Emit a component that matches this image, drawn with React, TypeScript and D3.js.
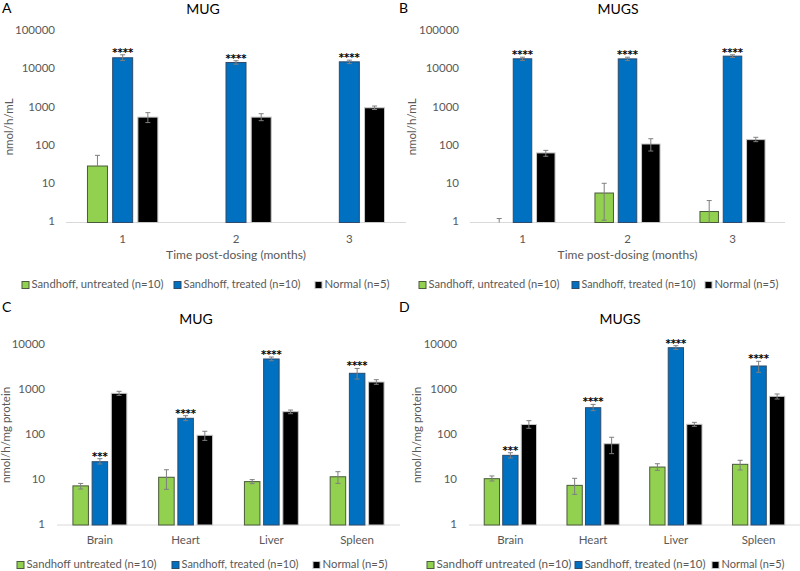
import React from "react";
import * as d3 from "d3";

// ---------- data ----------
const legendAB = ["Sandhoff, untreated (n=10)", "Sandhoff, treated (n=10)", "Normal (n=5)"];
const legendCD = ["Sandhoff untreated (n=10)", "Sandhoff, treated (n=10)", "Normal (n=5)"];
const months = ["1", "2", "3"];
const tissues = ["Brain", "Heart", "Liver", "Spleen"];
const ticksAB = [1, 10, 100, 1000, 10000, 100000];
const ticksCD = [1, 10, 100, 1000, 10000];

// Panel A (MUG, plasma)
const aUntreated = [30, null, null];
const aUntreatedHi = [57, null, null];
const aUntreatedLo = [30, null, null];
const aTreated = [20300, 15300, 15900];
const aTreatedHi = [24300, 17000, 17600];
const aTreatedLo = [17200, 13800, 14300];
const aNormal = [570, 570, 1000];
const aNormalHi = [745, 700, 1110];
const aNormalLo = [410, 460, 900];
const aSig = ["****", "****", "****"];

// Panel B (MUGS, plasma)
const bUntreated = [1.0, 5.9, 1.94];
const bUntreatedHi = [1.27, 10.6, 3.75];
const bUntreatedLo = [1, 1.15, 1];
const bTreated = [19100, 19000, 22400];
const bTreatedHi = [21000, 21000, 24300];
const bTreatedLo = [17300, 17200, 20600];
const bNormal = [66, 113, 147];
const bNormalHi = [77, 155, 169];
const bNormalLo = [54, 74, 130];
const bSig = ["****", "****", "****"];

// Panel C (MUG, tissues)
const cUntreated = [7.4, 11.5, 9.2, 11.8];
const cUntreatedHi = [8.4, 16.9, 10.2, 15.3];
const cUntreatedLo = [6.3, 6.2, 8.3, 8.4];
const cTreated = [25.5, 235, 4890, 2350];
const cTreatedHi = [29.8, 269, 5410, 3010];
const cTreatedLo = [22.7, 208, 4470, 1750];
const cNormal = [844, 98.5, 330, 1505];
const cNormalHi = [935, 121, 359, 1695];
const cNormalLo = [760, 76, 297, 1340];
const cSig = ["***", "****", "****", "****"];

// Panel D (MUGS, tissues)
const dUntreated = [10.7, 7.6, 19.4, 22.3];
const dUntreatedHi = [12.3, 10.9, 23, 27.4];
const dUntreatedLo = [9.5, 4.8, 16.4, 16.7];
const dTreated = [35.3, 404, 8700, 3415];
const dTreatedHi = [40.4, 479, 9660, 4340];
const dTreatedLo = [30.8, 347, 8000, 2470];
const dNormal = [171, 64, 173, 723];
const dNormalHi = [208, 89, 191, 816];
const dNormalLo = [141, 38.5, 156, 630];
const dSig = ["***", "****", "****", "****"];

// ---------- styling ----------
const FILLS = ["#92D050", "#0070C0", "#000000"];
const STROKES = ["#4a5a3a", "#2f4a6a", "#c8c8c8"];
const FONT = "Lato, 'Open Sans', 'Liberation Sans', Arial, sans-serif";
const GREY = "#595959";

type Series = { v: (number | null)[]; hi: (number | null)[]; lo: (number | null)[] };

type PanelProps = {
  letter: string;
  letterX: number;
  letterY: number;
  title: string;
  titleX: number;
  titleY: number;
  cats: string[];
  series: Series[];
  sig: string[];
  ticks: number[];
  xRange: [number, number];
  yRange: [number, number];
  tickX: number;
  barW: number;
  barStep: number;
  catY: number;
  xTitle?: string;
  xTitleY?: number;
  yTitle: string;
  yTitleX: number;
  legend: string[];
  legendXs: number[];
  legendWs: number[];
  legendY: number;
};

function Panel(p: PanelProps) {
  const y = d3
    .scaleLog()
    .domain([1, p.ticks[p.ticks.length - 1]])
    .range(p.yRange);
  const x = d3.scaleBand<string>().domain(p.cats).range(p.xRange).padding(0);
  const groupW = p.barStep * 2 + p.barW;
  const inner = d3
    .scaleLinear()
    .domain([0, 2])
    .range([-groupW / 2, -groupW / 2 + 2 * p.barStep]);
  const base = p.yRange[0];
  const yMid = (p.yRange[0] + p.yRange[1]) / 2;
  const cx = (p.xRange[0] + p.xRange[1]) / 2;

  return (
    <g fontFamily={FONT}>
      <text x={p.letterX} y={p.letterY} fontSize={14} fill="#000" dominantBaseline="middle">
        {p.letter}
      </text>
      <text x={p.titleX} y={p.titleY} fontSize={14} fill="#000" textAnchor="middle" dominantBaseline="middle">
        {p.title}
      </text>
      {p.ticks.map((t) => (
        <text key={t} x={p.tickX} y={y(t)} fontSize={11.5} fill={GREY} textAnchor="end" dominantBaseline="middle">
          {t}
        </text>
      ))}
      <line x1={p.xRange[0]} x2={p.xRange[1]} y1={base} y2={base} stroke="#d9d9d9" strokeWidth={1} />
      {p.cats.map((c, ci) => {
        const gx = (x(c) as number) + x.bandwidth() / 2;
        return (
          <g key={c}>
            {p.series.map((s, si) => {
              const v = s.v[ci];
              if (v == null) return null;
              const bx = gx + inner(si);
              const top = y(v);
              const hi = s.hi[ci];
              const lo = s.lo[ci];
              const ex = bx + p.barW / 2;
              return (
                <g key={si}>
                  <rect
                    x={bx}
                    y={top}
                    width={p.barW}
                    height={Math.max(0, base - top)}
                    fill={FILLS[si]}
                    stroke={STROKES[si]}
                    strokeWidth={1}
                  />
                  {hi != null && lo != null && (
                    <g stroke="#7f7f7f" strokeWidth={1}>
                      <line x1={ex} x2={ex} y1={y(hi)} y2={y(Math.max(1, lo))} />
                      <line x1={ex - 2.5} x2={ex + 2.5} y1={y(hi)} y2={y(hi)} />
                      {lo < v && lo > 1 && (
                        <line x1={ex - 2.5} x2={ex + 2.5} y1={y(lo)} y2={y(lo)} />
                      )}
                    </g>
                  )}
                  {si === 1 && p.sig[ci] && (
                    <text
                      x={ex}
                      y={y((hi ?? v) as number) + 1}
                      fontSize={10}
                      fontWeight="bold"
                      fill="#000"
                      textAnchor="middle"
                      fontFamily="'DejaVu Sans', sans-serif"
                    >
                      {p.sig[ci]}
                    </text>
                  )}
                </g>
              );
            })}
            <text x={gx} y={p.catY} fontSize={11.5} fill={GREY} textAnchor="middle" dominantBaseline="middle">
              {c}
            </text>
          </g>
        );
      })}
      {p.xTitle && (
        <text x={cx} y={p.xTitleY} fontSize={12} fill={GREY} textAnchor="middle" dominantBaseline="middle">
          {p.xTitle}
        </text>
      )}
      <text
        transform={`translate(${p.yTitleX},${yMid}) rotate(-90)`}
        fontSize={11.5}
        fill={GREY}
        textAnchor="middle"
        dominantBaseline="middle"
      >
        {p.yTitle}
      </text>
      {p.legend.map((l, i) => (
        <g key={l}>
          <rect
            x={p.legendXs[i]}
            y={p.legendY - 3.5}
            width={7}
            height={7}
            fill={FILLS[i]}
            stroke={STROKES[i]}
            strokeWidth={1}
          />
          <text
            x={p.legendXs[i] + 9.5}
            y={p.legendY}
            fontSize={11.5}
            fill={GREY}
            dominantBaseline="middle"
            textLength={p.legendWs[i]}
            lengthAdjust="spacingAndGlyphs"
          >
            {l}
          </text>
        </g>
      ))}
    </g>
  );
}

const mk = (v: (number | null)[], hi: (number | null)[], lo: (number | null)[]): Series => ({ v, hi, lo });

export default function App() {
  return (
    <svg
      width={800}
      height={571}
      style={{ position: "absolute", left: 0, top: 0, background: "#fff" }}
    >
      <rect width={800} height={571} fill="#fff" />
      <Panel
        letter="A"
        letterX={2}
        letterY={9}
        title="MUG"
        titleX={203}
        titleY={10}
        cats={months}
        series={[mk(aUntreated, aUntreatedHi, aUntreatedLo), mk(aTreated, aTreatedHi, aTreatedLo), mk(aNormal, aNormalHi, aNormalLo)]}
        sig={aSig}
        ticks={ticksAB}
        xRange={[66, 406]}
        yRange={[222.5, 31.3]}
        tickX={55}
        barW={20}
        barStep={25.2}
        catY={240}
        xTitle="Time post-dosing (months)"
        xTitleY={256}
        yTitle="nmol/h/mL"
        yTitleX={10}
        legend={legendAB}
        legendXs={[22, 174, 315]}
        legendWs={[132, 117, 65]}
        legendY={285}
      />
      <Panel
        letter="B"
        letterX={399}
        letterY={9}
        title="MUGS"
        titleX={618}
        titleY={10}
        cats={months}
        series={[mk(bUntreated, bUntreatedHi, bUntreatedLo), mk(bTreated, bTreatedHi, bTreatedLo), mk(bNormal, bNormalHi, bNormalLo)]}
        sig={bSig}
        ticks={ticksAB}
        xRange={[470, 785]}
        yRange={[222.5, 31.3]}
        tickX={459}
        barW={18.5}
        barStep={23.3}
        catY={240}
        xTitle="Time post-dosing (months)"
        xTitleY={256}
        yTitle="nmol/h/mL"
        yTitleX={413}
        legend={legendAB}
        legendXs={[419, 572, 705]}
        legendWs={[131, 114, 64]}
        legendY={285}
      />
      <Panel
        letter="C"
        letterX={2}
        letterY={308}
        title="MUG"
        titleX={196}
        titleY={320}
        cats={tissues}
        series={[mk(cUntreated, cUntreatedHi, cUntreatedLo), mk(cTreated, cTreatedHi, cTreatedLo), mk(cNormal, cNormalHi, cNormalLo)]}
        sig={cSig}
        ticks={ticksCD}
        xRange={[57, 400]}
        yRange={[525, 345]}
        tickX={45}
        barW={15.5}
        barStep={19.2}
        catY={541}
        yTitle="nmol/h/mg protein"
        yTitleX={7}
        legend={legendCD}
        legendXs={[17, 172, 313]}
        legendWs={[130, 117, 65]}
        legendY={565}
      />
      <Panel
        letter="D"
        letterX={399}
        letterY={308}
        title="MUGS"
        titleX={620}
        titleY={320}
        cats={tissues}
        series={[mk(dUntreated, dUntreatedHi, dUntreatedLo), mk(dTreated, dTreatedHi, dTreatedLo), mk(dNormal, dNormalHi, dNormalLo)]}
        sig={dSig}
        ticks={ticksCD}
        xRange={[469, 800]}
        yRange={[525, 345]}
        tickX={457}
        barW={15.3}
        barStep={18.5}
        catY={541}
        yTitle="nmol/h/mg protein"
        yTitleX={418}
        legend={legendCD}
        legendXs={[427, 575, 712]}
        legendWs={[135, 121, 63]}
        legendY={565}
      />
    </svg>
  );
}
